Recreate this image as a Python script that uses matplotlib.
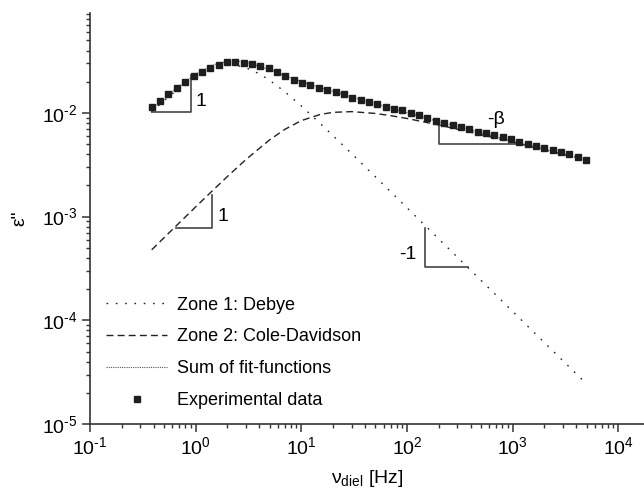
import matplotlib
matplotlib.use("Agg")
import numpy as np
import matplotlib.pyplot as plt
from matplotlib.ticker import LogLocator, NullFormatter, FuncFormatter

plt.rcParams['font.family'] = 'Liberation Sans'
plt.rcParams['mathtext.fontset'] = 'custom'
plt.rcParams['mathtext.rm'] = 'Liberation Sans'
plt.rcParams['mathtext.it'] = 'Liberation Sans:italic'
plt.rcParams['mathtext.default'] = 'regular'
plt.rcParams['axes.unicode_minus'] = False
plt.rcParams['font.size'] = 12

freq_exp = [0.384, 0.461, 0.553, 0.663, 0.796, 0.954, 1.145, 1.373, 1.648, 1.976,
            2.371, 2.845, 3.413, 4.095, 4.913, 5.894, 7.070, 8.482, 10.18, 12.21,
            14.65, 17.57, 21.08, 25.29, 30.34, 36.40, 43.67, 52.39, 62.85, 75.41,
            90.47, 108.5, 130.2, 156.2, 187.4, 224.8, 269.7, 323.6, 388.2, 465.7,
            558.7, 670.3, 804.2, 964.7, 1157, 1389, 1666, 1999, 2398, 2877,
            3451, 4140, 4966]
eps_exp = [0.01135, 0.01314, 0.01514, 0.01731, 0.01977, 0.02259, 0.02469, 0.02698, 0.02884, 0.03069,
           0.03125, 0.03002, 0.02969, 0.02820, 0.02698, 0.02469, 0.02249, 0.02081, 0.01934, 0.01862,
           0.01754, 0.01667, 0.01594, 0.01514, 0.01404, 0.01335, 0.01285, 0.01221, 0.01150, 0.01093,
           0.01069, 0.00993, 0.00950, 0.00901, 0.00843, 0.00796, 0.00761, 0.00728, 0.00696, 0.00660,
           0.00637, 0.00610, 0.00583, 0.00558, 0.00529, 0.00502, 0.00484, 0.00457, 0.00440, 0.00418,
           0.00400, 0.00379, 0.00352]

# Zone 1: Debye
freq_debye = [0.38, 0.5, 0.7, 1.0, 1.4, 1.8, 2.1, 2.5, 3.0, 4.0, 5.0, 7.0,
              10, 15, 20, 30, 50, 100, 200, 500, 1000, 2000, 4600]
eps_debye = [0.01017, 0.01307, 0.0174, 0.02251, 0.02677, 0.02866, 0.0290, 0.02857, 0.02725,
             0.02387, 0.02071, 0.01596, 0.01166, 0.00796, 0.00602, 0.00404, 0.002432,
             0.001217, 6.09e-4, 2.436e-4, 1.218e-4, 6.09e-5, 2.65e-5]

# Zone 2: Cole-Davidson
freq_cd = [0.384, 0.6, 1, 1.5, 2, 3, 5, 7, 10, 15, 20, 30, 50, 70, 100, 200, 500, 1000, 2000, 5000]
eps_cd = [4.79e-4, 7.48e-4, 1.241e-3, 1.849e-3, 2.441e-3, 3.562e-3, 5.49e-3, 6.957e-3, 8.43e-3,
          9.656e-3, 1.0134e-2, 1.0292e-2, 9.888e-3, 9.42e-3, 8.841e-3, 7.653e-3, 6.189e-3,
          5.233e-3, 4.412e-3, 3.515e-3]

# Sum of fit-functions
freq_sum = [0.384, 0.6, 1, 1.5, 2, 2.5, 3, 5, 7, 10, 15, 20, 30, 50, 100, 200, 500, 1000, 2000, 5000]
eps_sum = [0.01075, 0.01607, 0.02375, 0.02928, 0.03141, 0.03158, 0.03081, 0.02620, 0.02292,
           0.02009, 0.01762, 0.01615, 0.01433, 0.01232, 0.01006, 0.00826, 0.00643, 0.00536,
           0.00447, 0.00354]

# slope triangles (data coords)
tri_x = [[0.384, 0.904, 0.904], [0.652, 1.42, 1.42], [148.7, 148.7, 377], [198.8, 198.8, 1225]]
tri_y = [[0.0101, 0.0101, 0.02325], [7.78e-4, 7.78e-4, 1.63e-3], [7.78e-4, 3.24e-4, 3.24e-4],
         [8.56e-3, 4.99e-3, 4.99e-3]]


def pow10(v, _):
    e = int(round(np.log10(v)))
    if e < 0:
        return r'$10^{\text{-}%d}$' % (-e)
    return r'$10^{%d}$' % e


fig = plt.figure(figsize=(6.44, 4.94), dpi=100)
ax = fig.add_axes([90 / 644, 70 / 494, 554 / 644, 411 / 494])

ax.plot(freq_debye, eps_debye, color='#222222', lw=1.0, ls=(0, (1.2, 5.5)), label='Zone 1: Debye')
ax.plot(freq_cd, eps_cd, color='#222222', lw=1.0, ls=(0, (5, 3)), label='Zone 2: Cole-Davidson')
ax.plot(freq_sum, eps_sum, color='#555555', lw=0.8, ls=(0, (1, 1)), label='Sum of fit-functions')
ax.plot(freq_exp, eps_exp, ls='none', marker='s', ms=4.7, color='#1e1e1e', label='Experimental data',
        zorder=5)

for tx, ty in zip(tri_x, tri_y):
    ax.plot(tx, ty, color='#444444', lw=1.2, zorder=3)

ax.text(1.0, 0.0130, '1', ha='left', va='center', fontsize=14)
ax.text(1.6, 1.0e-3, '1', ha='left', va='center', fontsize=14)
ax.text(124, 4.3e-4, '-1', ha='right', va='center', fontsize=14)
ax.text(699, 8.7e-3, '-β', ha='center', va='center', fontsize=14)

ax.set_xscale('log')
ax.set_yscale('log')
ax.set_xlim(0.1, 1.75e4)
ax.set_ylim(1e-5, 0.092)

ax.xaxis.set_major_locator(LogLocator(base=10, numticks=10))
ax.xaxis.set_major_formatter(FuncFormatter(pow10))
ax.xaxis.set_minor_locator(LogLocator(base=10, subs=range(2, 10), numticks=100))
ax.xaxis.set_minor_formatter(NullFormatter())
ax.yaxis.set_major_formatter(FuncFormatter(pow10))
ax.yaxis.set_minor_locator(LogLocator(base=10, subs=range(2, 10), numticks=100))
ax.yaxis.set_minor_formatter(NullFormatter())

for side in ['top', 'right']:
    ax.spines[side].set_visible(False)
for side in ['left', 'bottom']:
    ax.spines[side].set_linewidth(1.2)
    ax.spines[side].set_color('#333333')
ax.tick_params(which='major', direction='out', length=6, width=1.1, color='#333333', labelsize=14, pad=3)
ax.tick_params(which='minor', direction='out', length=3, width=1.0, color='#333333')

ax.set_xlabel('ν$_{diel}$ [Hz]', fontsize=14, labelpad=7)
ax.set_ylabel('ε"', fontsize=14, labelpad=10)

ax.legend(loc='upper left', bbox_to_anchor=(0.029, 0.31), frameon=False, fontsize=13,
          handlelength=3.4, handletextpad=0.55, labelspacing=0.82, borderpad=0, borderaxespad=0)

fig.savefig('out.png', dpi=100)
